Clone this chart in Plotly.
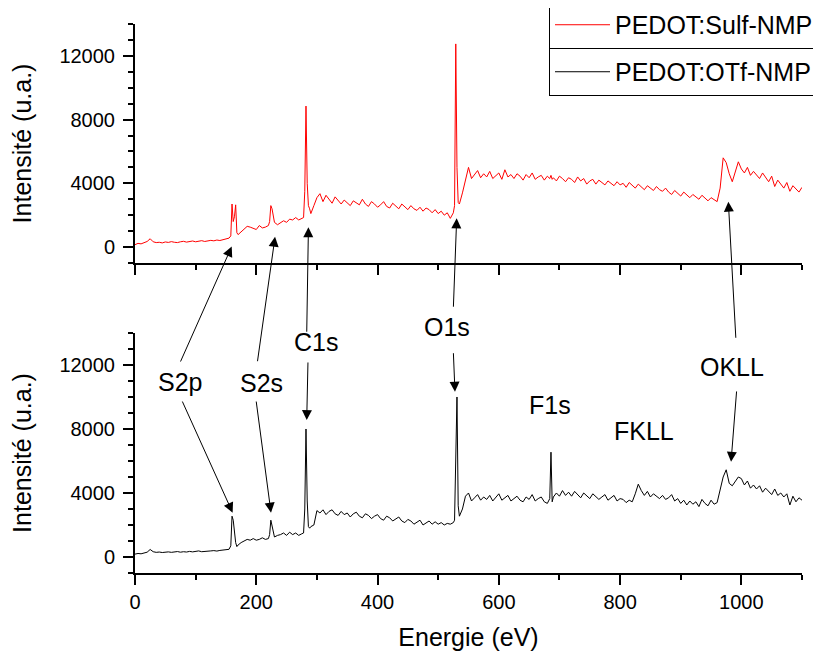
import plotly.graph_objects as go

# ---------------- data ----------------
energie = [
    0, 5, 10, 15, 20, 25, 30, 35, 40, 45,
    50, 55, 60, 65, 70, 75, 80, 85, 90, 95,
    100, 105, 110, 115, 120, 125, 130, 135, 140, 145,
    150, 155, 158, 160, 162, 164, 166, 168, 170, 175,
    180, 185, 190, 195, 200, 205, 210, 215, 220, 222,
    224, 226, 228, 230, 235, 240, 245, 250, 255, 260,
    265, 270, 275, 278, 280, 282, 284, 286, 288, 290,
    295, 300, 305, 310, 315, 320, 325, 330, 335, 340,
    345, 350, 355, 360, 365, 370, 375, 380, 385, 390,
    395, 400, 405, 410, 415, 420, 425, 430, 435, 440,
    445, 450, 455, 460, 465, 470, 475, 480, 485, 490,
    495, 500, 505, 510, 515, 520, 525, 527, 529, 531,
    533, 535, 540, 545, 550, 555, 560, 565, 570, 575,
    580, 585, 590, 595, 600, 605, 610, 615, 620, 625,
    630, 635, 640, 645, 650, 655, 660, 665, 670, 675,
    680, 684, 686, 688, 690, 695, 700, 705, 710, 715,
    720, 725, 730, 735, 740, 745, 750, 755, 760, 765,
    770, 775, 780, 785, 790, 795, 800, 805, 810, 815,
    820, 825, 830, 835, 840, 845, 850, 855, 860, 865,
    870, 875, 880, 885, 890, 895, 900, 905, 910, 915,
    920, 925, 930, 935, 940, 945, 950, 955, 960, 965,
    970, 975, 980, 985, 990, 995, 1000, 1005, 1010, 1015,
    1020, 1025, 1030, 1035, 1040, 1045, 1050, 1055, 1060, 1065,
    1070, 1075, 1080, 1085, 1090, 1095, 1100,
]

intensite_sulf = [
    150, 230, 200, 260, 350, 520, 330, 280, 300, 260,
    320, 290, 340, 300, 280, 330, 360, 310, 340, 380,
    330, 360, 400, 350, 380, 420, 390, 440, 410, 460,
    480, 560, 700, 2700, 1600, 1900, 2650, 900, 780, 950,
    1100, 1300, 1250, 1150, 1100, 1350, 1200, 1250, 1350, 1600,
    2600, 2400, 1900, 1550, 1400, 1500, 1650, 1550, 1750, 1700,
    1850, 1700, 1800, 1850, 3500, 8850, 4000, 2600, 2400, 2100,
    2600, 3100, 3350, 2850, 3250, 3000, 2750, 3150, 2900, 2700,
    2950, 2800, 2600, 2900, 2750, 2650, 3000, 2700, 2550, 2850,
    2700, 2500, 2650, 2850, 2550, 2450, 2750, 2600, 2400, 2700,
    2500, 2350, 2600, 2400, 2300, 2500, 2250, 2450, 2350, 2150,
    2350, 2100, 2250, 2000, 2150, 1800, 2150, 2600, 12750, 5000,
    2800, 2700, 3400, 4200, 5000, 4300, 4550, 4800, 4350, 4600,
    4400, 4750, 4300, 4500, 4650, 4250, 4850, 4400, 4550, 4300,
    4600, 4450, 4200, 4550, 4350, 4650, 4250, 4400, 4500, 4200,
    4450, 4300, 4500, 4250, 4350, 4150, 4450, 4300, 4100, 4350,
    4250, 4050, 4400, 4150, 4300, 3950, 4150, 4250, 3950, 4200,
    4050, 3900, 4150, 4000, 3850, 4100, 3900, 4000, 3750, 4050,
    3850, 3700, 3950, 3750, 3600, 3850, 3700, 3550, 3800, 3600,
    3500, 3700, 3450, 3300, 3550, 3350, 3200, 3450, 3250, 3100,
    3300, 3150, 3000, 3250, 3050, 2900, 3100, 2950, 2850, 3700,
    5600, 5300, 4600, 4100, 4700, 5350, 4900, 4650, 5000, 4500,
    4750, 4550, 4300, 4650, 4350, 4100, 4450, 3800, 4200, 3950,
    3700, 4050, 3500, 3850, 3650, 3450, 3750,
]

intensite_otf = [
    180, 220, 200, 250, 300, 470, 330, 290, 310, 280,
    300, 320, 290, 310, 340, 300, 330, 310, 350, 320,
    340, 380, 330, 360, 350, 380, 400, 370, 410, 420,
    440, 480, 700, 2550, 2300, 1500, 900, 650, 750, 900,
    1000, 1100, 1050, 1150, 1050, 1100, 1200, 1100, 1150, 1400,
    2300, 1900, 1500, 1250, 1350, 1400, 1500, 1350, 1550, 1400,
    1500, 1350, 1450, 1500, 3000, 8000, 3500, 1900, 1800, 1900,
    2000, 2900, 2750, 2950, 2650, 2850, 2950, 2700, 2600, 2850,
    2650, 2750, 2500, 2700, 2800, 2550, 2450, 2700, 2600, 2400,
    2550, 2650, 2400, 2300, 2550, 2450, 2250, 2400, 2500, 2250,
    2150, 2350, 2250, 2050, 2200, 2300, 2000, 2150, 2250, 2050,
    2200, 2050, 2150, 2000, 2100, 2050, 2150, 2300, 6500, 10000,
    3200, 2550, 3000, 3800, 4000, 3500, 3700, 3900, 3550, 3750,
    3600, 3850, 3500, 3750, 3950, 3550, 3700, 3850, 3500, 3650,
    3800, 3550, 3450, 3750, 3600, 3900, 3500, 3650, 3750, 3450,
    3350, 3650, 6550, 3450, 3750, 4000, 3800, 4150, 3850, 4050,
    3800, 4100, 3900, 3700, 4000, 3850, 3650, 3950, 3800, 3600,
    3750, 3900, 3550, 3700, 3850, 3500, 3650, 3600, 3400, 3550,
    3450, 3950, 4550, 4150, 3850, 4100, 3750, 3950, 3800, 3650,
    3850, 3600, 3700, 3900, 3500, 3650, 3350, 3550, 3250, 3500,
    3300, 3450, 3150, 3600, 3350, 3200, 3550, 3300, 3400, 4300,
    5000, 5450, 4600, 4450, 4700, 5000, 4900, 4500, 4750, 4300,
    4500, 4250, 4450, 4050, 4300, 4100, 3900, 4250, 3850, 4000,
    3750, 3950, 3250, 3800, 3450, 3700, 3550,
]

serie_noms = ["PEDOT:Sulf-NMP", "PEDOT:OTf-NMP"]
serie_couleurs = ["#ff0000", "#000000"]

# peak labels: text, x in eV, vertical position as fraction of the plotting area height
pic_labels = ["S2p", "S2s", "C1s", "O1s", "F1s", "FKLL", "OKLL"]
pic_label_x = [74, 209, 298, 514, 685, 839, 985]
pic_label_yfrac = [0.3479, 0.3461, 0.4208, 0.4472, 0.2769, 0.2295, 0.3752]

# arrows pointing to the upper spectrum: (head x, head y, tail x, tail y) in top-panel units
fleches_haut_x = [159.5, 231, 286, 530.5, 978.5]
fleches_haut_y = [30, 650, 1240, 1800, 2850]
fleches_haut_ax = [74, 201.7, 283.2, 525, 991]
fleches_haut_ay = [-7280, -7260, -5410, -3840, -5790]

# arrows pointing to the lower spectrum, in bottom-panel units
fleches_bas_x = [161, 224.3, 283.2, 527.7, 983]
fleches_bas_y = [2770, 2770, 8560, 10330, 5950]
fleches_bas_ax = [77, 199.6, 285.3, 525, 992.3]
fleches_bas_ay = [9810, 9810, 12250, 12830, 10440]

FONT = "Liberation Sans, Arial, sans-serif"
BIG = 25

fig = go.Figure()
fig.add_trace(go.Scatter(x=energie, y=intensite_sulf, mode="lines",
                         line=dict(color=serie_couleurs[0], width=1),
                         name=serie_noms[0], xaxis="x2", yaxis="y2",
                         legend="legend"))
fig.add_trace(go.Scatter(x=energie, y=intensite_otf, mode="lines",
                         line=dict(color=serie_couleurs[1], width=1),
                         name=serie_noms[1], xaxis="x", yaxis="y",
                         legend="legend2"))

def xax(**kw):
    d = dict(range=[0, 1100], showline=True, linecolor="black", linewidth=2,
             ticks="outside", ticklen=10, tickwidth=1.5, tickcolor="black",
             tick0=0, dtick=200, showgrid=False, zeroline=False,
             tickfont=dict(size=20, color="black", family=FONT),
             minor=dict(ticks="outside", ticklen=5, tickwidth=1.5,
                        tickcolor="black", dtick=100, tick0=0, showgrid=False))
    d.update(kw)
    return d

def yax(**kw):
    d = dict(range=[-1000, 14000], showline=True, linecolor="black", linewidth=2,
             ticks="outside", ticklen=10, tickwidth=1.5, tickcolor="black",
             tick0=0, dtick=4000, tickformat="d", showgrid=False, zeroline=False,
             ticklabelstandoff=4,
             tickfont=dict(size=20, color="black", family=FONT),
             minor=dict(ticks="outside", ticklen=5, tickwidth=1.5,
                        tickcolor="black", dtick=1000, tick0=0, showgrid=False),
             title=dict(text="Intensité (u.a.)", standoff=24,
                        font=dict(size=BIG, color="black", family=FONT)))
    d.update(kw)
    return d

annotations = []
for t, x, y in zip(pic_labels, pic_label_x, pic_label_yfrac):
    annotations.append(dict(text=t, x=x, y=y, xref="x", yref="paper",
                            showarrow=False,
                            font=dict(size=BIG, color="black", family=FONT)))
for x, y, ax, ay in zip(fleches_haut_x, fleches_haut_y, fleches_haut_ax, fleches_haut_ay):
    annotations.append(dict(text="", x=x, y=y, xref="x2", yref="y2",
                            ax=ax, ay=ay, axref="x2", ayref="y2",
                            showarrow=True, arrowhead=2, arrowsize=2,
                            arrowwidth=1, arrowcolor="black"))
for x, y, ax, ay in zip(fleches_bas_x, fleches_bas_y, fleches_bas_ax, fleches_bas_ay):
    annotations.append(dict(text="", x=x, y=y, xref="x", yref="y",
                            ax=ax, ay=ay, axref="x", ayref="y",
                            showarrow=True, arrowhead=2, arrowsize=2,
                            arrowwidth=1, arrowcolor="black"))

leg_common = dict(xanchor="left", yanchor="top", bgcolor="white",
                  bordercolor="black", borderwidth=1,
                  font=dict(size=BIG, color="black", family=FONT),
                  tracegroupgap=0, itemwidth=55)

# page body adds an 8px offset, so the figure is 8px smaller and margins shifted
fig.update_layout(
    width=813, height=646,
    template="none",
    paper_bgcolor="white", plot_bgcolor="white",
    font=dict(family=FONT, color="black"),
    margin=dict(l=127, r=19, t=16, b=81, autoexpand=False),
    xaxis=xax(anchor="y", domain=[0, 1],
              title=dict(text="Energie (eV)", standoff=16,
                         font=dict(size=BIG, color="black", family=FONT))),
    yaxis=yax(anchor="x", domain=[0, 0.4372]),
    xaxis2=xax(anchor="y2", domain=[0, 1], showticklabels=False),
    yaxis2=yax(anchor="x2", domain=[0.5647, 1]),
    showlegend=True,
    legend=dict(x=0.6207, y=1.0419, **leg_common),
    legend2=dict(x=0.6207, y=0.9563, **leg_common),
    annotations=annotations,
)

fig.write_html("out.html")
